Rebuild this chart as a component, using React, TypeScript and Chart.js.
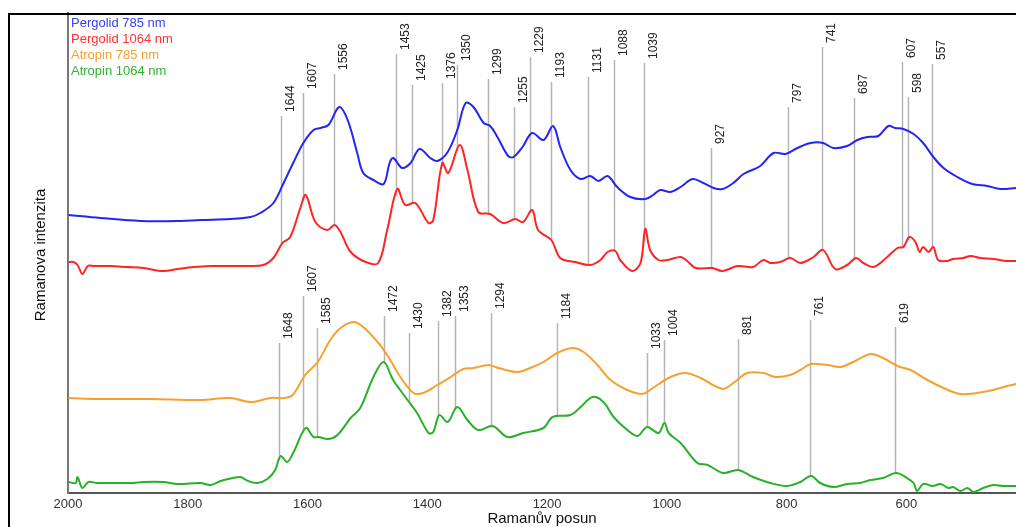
import React, { useEffect, useRef } from "react";
import { Chart, registerables } from "chart.js";

Chart.register(...registerables);

// ---------- Data (Raman shift in cm-1, intensity in arbitrary units) ----------
const pergolid785Wn = [1999, 1946, 1879, 1812, 1779, 1729, 1695, 1679, 1657, 1640, 1624, 1607, 1590, 1578, 1565, 1547, 1533, 1517, 1507, 1490, 1473, 1463, 1457, 1442, 1428, 1413, 1395, 1383, 1366, 1350, 1336, 1323, 1306, 1295, 1283, 1265, 1256, 1241, 1225, 1206, 1190, 1178, 1161, 1144, 1128, 1114, 1099, 1083, 1061, 1036, 1023, 1011, 994, 977, 957, 939, 922, 907, 889, 872, 844, 822, 802, 782, 760, 739, 722, 699, 682, 665, 647, 630, 619, 605, 588, 572, 555, 538, 515, 490, 465, 443, 417];
const pergolid785Int = [278, 275, 272, 272, 273, 274, 276, 280, 290, 310, 330, 350, 363, 365, 368, 386, 373, 340, 320, 313, 309, 330, 335, 325, 330, 344, 335, 332, 341, 363, 390, 386, 370, 367, 356, 337, 336, 346, 360, 353, 367, 346, 323, 314, 317, 312, 317, 306, 296, 294, 298, 303, 301, 306, 314, 310, 305, 304, 310, 319, 327, 340, 339, 345, 350, 350, 345, 347, 353, 356, 357, 367, 365, 364, 359, 350, 336, 325, 316, 309, 307, 304, 305];

const pergolid1064Wn = [1999, 1991, 1984, 1976, 1967, 1957, 1929, 1901, 1874, 1841, 1817, 1790, 1762, 1734, 1700, 1674, 1657, 1642, 1629, 1612, 1603, 1587, 1567, 1555, 1545, 1528, 1503, 1482, 1467, 1450, 1437, 1420, 1398, 1390, 1375, 1365, 1346, 1333, 1315, 1295, 1273, 1253, 1240, 1225, 1215, 1193, 1178, 1153, 1128, 1111, 1099, 1086, 1078, 1058, 1044, 1036, 1028, 1014, 999, 977, 966, 952, 924, 907, 882, 856, 839, 827, 811, 794, 777, 755, 739, 719, 699, 684, 672, 655, 632, 615, 605, 595, 585, 578, 572, 563, 555, 547, 532, 522, 505, 493, 477, 455, 432, 417];
const pergolid1064Int = [231, 231, 228, 219, 227, 227, 227, 226, 225, 222, 224, 226, 227, 227, 227, 228, 235, 250, 256, 285, 298, 271, 263, 268, 261, 241, 231, 230, 263, 304, 288, 290, 270, 273, 330, 320, 348, 323, 281, 279, 270, 274, 271, 283, 263, 253, 235, 231, 228, 233, 241, 242, 233, 222, 230, 264, 243, 233, 233, 236, 232, 225, 225, 222, 227, 226, 233, 230, 231, 235, 230, 236, 243, 224, 228, 235, 230, 226, 236, 245, 246, 256, 251, 241, 246, 241, 246, 233, 232, 234, 235, 237, 235, 234, 232, 232];

const atropin785Wn = [1999, 1946, 1862, 1779, 1729, 1695, 1662, 1640, 1625, 1604, 1583, 1562, 1545, 1523, 1507, 1483, 1467, 1445, 1423, 1407, 1383, 1361, 1340, 1323, 1298, 1281, 1250, 1228, 1206, 1183, 1158, 1139, 1116, 1094, 1066, 1041, 1028, 1016, 994, 969, 944, 907, 889, 866, 839, 819, 794, 777, 760, 732, 710, 689, 660, 639, 615, 593, 565, 538, 510, 482, 455, 432, 417];
const atropin785Int = [95, 94, 94, 93, 95, 91, 95, 95, 98, 118, 131, 153, 165, 171, 166, 151, 138, 116, 100, 100, 108, 116, 124, 125, 128, 125, 121, 125, 131, 140, 145, 141, 128, 113, 103, 99, 103, 108, 116, 120, 115, 104, 110, 120, 120, 116, 118, 123, 129, 128, 126, 131, 139, 135, 127, 123, 113, 105, 99, 100, 103, 107, 109];

const atropin1064Wn = [1999, 1987, 1984, 1976, 1966, 1951, 1917, 1891, 1874, 1841, 1817, 1779, 1762, 1745, 1724, 1712, 1699, 1684, 1667, 1654, 1645, 1634, 1624, 1603, 1590, 1582, 1565, 1550, 1528, 1512, 1490, 1473, 1457, 1433, 1417, 1398, 1390, 1380, 1366, 1350, 1333, 1315, 1291, 1266, 1240, 1206, 1191, 1161, 1144, 1124, 1106, 1089, 1066, 1049, 1033, 1014, 1004, 997, 977, 949, 932, 906, 881, 856, 827, 799, 777, 759, 744, 722, 699, 677, 660, 639, 617, 599, 588, 582, 572, 556, 543, 530, 522, 510, 498, 488, 472, 455, 438, 417];
const atropin1064Int = [11, 10, 16, 5, 11, 10, 10, 10, 11, 11, 9, 10, 8, 12, 15, 16, 12, 10, 14, 23, 37, 31, 40, 65, 56, 56, 54, 58, 75, 85, 116, 131, 113, 93, 80, 60, 61, 78, 71, 86, 73, 63, 67, 56, 60, 65, 76, 78, 86, 96, 91, 76, 63, 57, 66, 60, 70, 60, 50, 30, 28, 20, 23, 16, 10, 7, 11, 17, 10, 6, 9, 10, 13, 15, 20, 15, 10, 2, 9, 7, 9, 5, 6, 2, 5, 1, 5, 8, 7, 7];

// Peak annotations: wavenumber and label height (intensity units)
const pergolidPeaks = [1644, 1607, 1556, 1453, 1425, 1376, 1350, 1299, 1255, 1229, 1193, 1131, 1088, 1039, 927, 797, 741, 687, 607, 598, 557];
const pergolidPeakTops = [377, 400, 419, 439, 408, 410, 428, 414, 386, 436, 411, 416, 433, 430, 345, 386, 446, 395, 431, 396, 429];
const atropinPeaks = [1648, 1607, 1585, 1472, 1430, 1382, 1353, 1294, 1184, 1033, 1004, 881, 761, 619];
const atropinPeakTops = [150, 197, 165, 177, 160, 172, 177, 180, 170, 140, 153, 154, 173, 166];

const xTickValues = [2000, 1800, 1600, 1400, 1200, 1000, 800, 600];
const seriesNames = ["Pergolid 785 nm", "Pergolid 1064 nm", "Atropin 785 nm", "Atropin 1064 nm"];
const seriesColors = ["#2424f4", "#ff2424", "#f5a030", "#28b028"];
const legendColors = ["#3c3cf0", "#ff3030", "#f5a030", "#30b030"];

const X_MIN = 417;
const X_MAX = 2000;
const Y_MIN = 0;
const Y_MAX = 480;

function toPoints(wn: number[], ints: number[]) {
  return wn.map((w, i) => ({ x: w, y: ints[i] }));
}

function interp(wn: number[], ints: number[], w: number): number {
  for (let i = 0; i < wn.length - 1; i++) {
    const a = wn[i];
    const b = wn[i + 1];
    if ((w <= a && w >= b) || (w >= a && w <= b)) {
      const t = (w - a) / (b - a || 1);
      return ints[i] + t * (ints[i + 1] - ints[i]);
    }
  }
  return ints[ints.length - 1];
}

const FONT = "'Liberation Sans', Arial, sans-serif";

const decorPlugin = {
  id: "decor",
  beforeDatasetsDraw(chart: any) {
    const { ctx, scales } = chart;
    const xs = scales.x;
    const ys = scales.y;
    ctx.save();
    ctx.strokeStyle = "#b4b4b4";
    ctx.lineWidth = 1.5;
    const drawGroup = (peaks: number[], tops: number[], wn: number[], ints: number[]) => {
      peaks.forEach((p, i) => {
        const x = Math.round(xs.getPixelForValue(p)) + 0.5;
        const yTop = ys.getPixelForValue(tops[i]);
        const yBot = ys.getPixelForValue(interp(wn, ints, p));
        ctx.beginPath();
        ctx.moveTo(x, yTop);
        ctx.lineTo(x, yBot);
        ctx.stroke();
      });
    };
    drawGroup(pergolidPeaks, pergolidPeakTops, pergolid1064Wn, pergolid1064Int);
    drawGroup(atropinPeaks, atropinPeakTops, atropin1064Wn, atropin1064Int);

    ctx.fillStyle = "#222";
    ctx.font = "12px " + FONT;
    ctx.textAlign = "left";
    ctx.textBaseline = "alphabetic";
    const labelGroup = (peaks: number[], tops: number[]) => {
      peaks.forEach((p, i) => {
        const x = xs.getPixelForValue(p);
        const yTop = ys.getPixelForValue(tops[i]);
        ctx.save();
        ctx.translate(x + 13, yTop - 4);
        ctx.rotate(-Math.PI / 2);
        ctx.fillText(String(p), 0, 0);
        ctx.restore();
      });
    };
    labelGroup(pergolidPeaks, pergolidPeakTops);
    labelGroup(atropinPeaks, atropinPeakTops);
    ctx.restore();
  },
  afterDraw(chart: any) {
    const { ctx, width, chartArea } = chart;
    ctx.save();
    // outer frame
    ctx.strokeStyle = "#000";
    ctx.lineWidth = 2;
    ctx.beginPath();
    ctx.moveTo(1, chart.height + 5);
    ctx.lineTo(1, 6);
    ctx.lineTo(width + 5, 6);
    ctx.stroke();

    // legend
    ctx.font = "13px " + FONT;
    ctx.textAlign = "left";
    ctx.textBaseline = "middle";
    seriesNames.forEach((n, i) => {
      ctx.fillStyle = legendColors[i];
      ctx.fillText(n, chartArea.left + 3, 15 + i * 16.3);
    });

    // axis titles
    ctx.fillStyle = "#111";
    ctx.font = "15px " + FONT;
    ctx.textAlign = "center";
    ctx.textBaseline = "middle";
    ctx.fillText("Ramanův posun", (chartArea.left + chartArea.right) / 2, 511);
    ctx.save();
    ctx.translate(33, 247);
    ctx.rotate(-Math.PI / 2);
    ctx.fillText("Ramanova intenzita", 0, 0);
    ctx.restore();
    ctx.restore();
  },
};

export default function App() {
  const ref = useRef<HTMLCanvasElement | null>(null);
  useEffect(() => {
    document.documentElement.style.overflow = "hidden";
    const canvas = ref.current;
    if (!canvas) return;
    const datasets = [
      toPoints(pergolid785Wn, pergolid785Int),
      toPoints(pergolid1064Wn, pergolid1064Int),
      toPoints(atropin785Wn, atropin785Int),
      toPoints(atropin1064Wn, atropin1064Int),
    ].map((d, i) => ({
      label: seriesNames[i],
      data: d,
      borderColor: seriesColors[i],
      backgroundColor: seriesColors[i],
      borderWidth: 2,
      pointRadius: 0,
      tension: 0.35,
      fill: false,
    }));
    const chart = new Chart(canvas, {
      type: "line",
      data: { datasets },
      options: {
        animation: false,
        responsive: false,
        devicePixelRatio: 1,
        layout: { padding: { top: 5, right: 0, left: 0, bottom: 0 } },
        plugins: { legend: { display: false }, tooltip: { enabled: false } },
        scales: {
          x: {
            type: "linear",
            reverse: true,
            min: X_MIN,
            max: X_MAX,
            afterBuildTicks: (scale: any) => {
              scale.ticks = xTickValues.map((v) => ({ value: v }));
            },
            afterFit: (scale: any) => {
              scale.height = 34;
            },
            grid: { display: false, drawTicks: false },
            border: { display: true, color: "#555", width: 2 },
            ticks: {
              color: "#333",
              padding: 4,
              maxRotation: 0,
              autoSkip: false,
              font: { size: 13, family: FONT },
              callback: (v: any) => String(v),
            },
          },
          y: {
            type: "linear",
            min: Y_MIN,
            max: Y_MAX,
            afterFit: (scale: any) => {
              scale.width = 60;
            },
            grid: { display: false, drawTicks: false },
            border: { display: true, color: "#777", width: 2 },
            ticks: { display: false },
          },
        },
      },
      plugins: [decorPlugin],
    });
    return () => chart.destroy();
  }, []);
  return (
    <div style={{ position: "fixed", left: 8, top: 8, width: 1008, height: 519 }}>
      <canvas ref={ref} width={1008} height={519} style={{ display: "block" }} />
    </div>
  );
}
